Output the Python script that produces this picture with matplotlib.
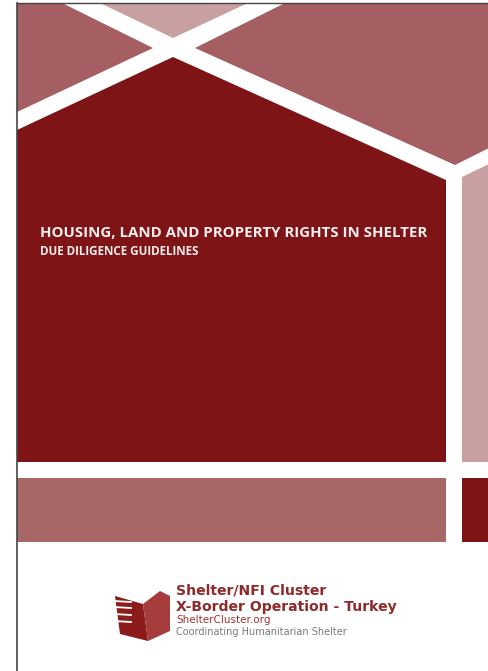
import matplotlib.pyplot as plt
from matplotlib.patches import Polygon

# page size in pixels (axes use pixel units, y downward)
W, H = 489, 671

# cover shapes: (vertices, colour)
dark_red = '#7e1416'
mid_red = '#a55f62'
pink = '#c9a0a1'
band_red = '#a86767'

top_left = [(17, 3), (62, 3), (153, 48), (17, 112)]
top_mid = [(100, 3), (248, 3), (173, 38)]
top_right = [(285, 3), (489, 3), (489, 148), (455, 165), (195, 48)]
house = [(17, 130), (173, 57), (446, 180), (446, 462), (17, 462)]
side_col = [(462, 177), (489, 164), (489, 462), (462, 462)]
band_left = [(17, 478), (446, 478), (446, 542), (17, 542)]
band_right = [(462, 478), (489, 478), (489, 542), (462, 542)]

shapes = [
    (top_left, mid_red),
    (top_mid, pink),
    (top_right, mid_red),
    (house, dark_red),
    (side_col, pink),
    (band_left, band_red),
    (band_right, dark_red),
]

# logo icon
icon_left = [(115, 596), (143, 604), (148, 641), (120, 634)]
icon_right = [(143, 604), (160, 591), (170, 596), (170, 631), (148, 641)]
finger_rows = [601, 607, 614, 621]

title = 'HOUSING, LAND AND PROPERTY RIGHTS IN SHELTER'
subtitle = 'DUE DILIGENCE GUIDELINES'
logo_lines = [
    ('Shelter/NFI Cluster', 595, 10.1, 'bold', '#8f2a2a'),
    ('X-Border Operation - Turkey', 611, 10.1, 'bold', '#8f2a2a'),
    ('ShelterCluster.org', 623, 7.5, 'normal', '#a33434'),
    ('Coordinating Humanitarian Shelter', 635, 7.0, 'normal', '#7a7a7a'),
]

fig = plt.figure(figsize=(W / 100, H / 100), dpi=100)
ax = fig.add_axes([0, 0, 1, 1])
ax.set_xlim(0, W)
ax.set_ylim(H, 0)
ax.axis('off')

for verts, col in shapes:
    ax.add_patch(Polygon(verts, closed=True, facecolor=col, edgecolor='none'))

# page border lines
ax.plot([17, W], [3, 3], color='#444444', lw=1.0)
ax.plot([17, 17], [3, H], color='#444444', lw=1.2)

ax.text(40, 237, title, color='#f4eeee', fontsize=10.85, fontweight='bold',
        fontstretch='normal', family='Open Sans', va='baseline', ha='left')
ax.text(40, 255, subtitle, color='#f4eeee', fontsize=8.4, fontweight='bold',
        fontstretch='normal', family='Open Sans', va='baseline', ha='left')

ax.add_patch(Polygon(icon_left, closed=True, facecolor='#8c1c1c', edgecolor='none'))
ax.add_patch(Polygon(icon_right, closed=True, facecolor='#a63c3c', edgecolor='none'))
for yy in finger_rows:
    ax.plot([114, 131], [yy, yy + 1], color='white', lw=1.3)

for txt, yy, fs, wt, col in logo_lines:
    ax.text(176, yy, txt, color=col, fontsize=fs, fontweight=wt,
            family='DejaVu Sans', va='baseline', ha='left')

fig.savefig('out.png', dpi=100, facecolor='white')
